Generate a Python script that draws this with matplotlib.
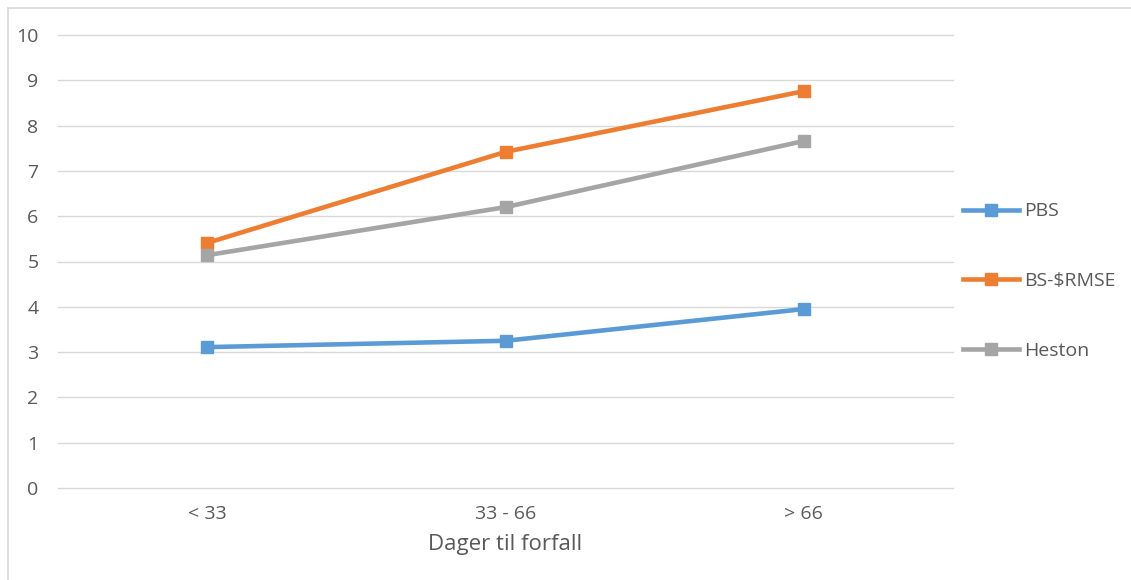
import matplotlib.pyplot as plt
import numpy as np
from matplotlib.lines import Line2D

categories = ['< 33', '33 - 66', '> 66']
pbs = [3.11, 3.25, 3.95]
bs_rmse = [5.41, 7.42, 8.76]
heston = [5.14, 6.20, 7.66]

plt.rcParams['font.family'] = ['Open Sans', 'DejaVu Sans']

fig = plt.figure(figsize=(11.31, 5.80), dpi=100)
ax = fig.add_axes([58/1131, 92/580, 895/1131, 453/580])

x = np.arange(len(categories))
ax.plot(x, pbs, color='#5B9BD5', lw=3.3, marker='s', ms=8.5, label='PBS')
ax.plot(x, bs_rmse, color='#ED7D31', lw=3.3, marker='s', ms=8.5, label='BS-$RMSE')
ax.plot(x, heston, color='#A5A5A5', lw=3.3, marker='s', ms=8.5, label='Heston')

ax.set_xlim(-0.5, 2.5)
ax.set_ylim(0, 10)
ax.set_yticks(range(0, 11))
ax.set_xticks(x)
ax.set_xticklabels(categories)
ax.grid(axis='y', color='#D9D9D9', lw=1)
for gl in ax.get_ygridlines():
    gl.set_clip_on(False)
ax.set_axisbelow(True)
for s in ax.spines.values():
    s.set_visible(False)
ax.tick_params(length=0, colors='#595959', labelsize=14)
ax.tick_params(axis='y', pad=14)
ax.tick_params(axis='x', pad=12)
ax.set_xlabel('Dager til forfall', fontsize=16, color='#595959', labelpad=8)

leg = fig.legend(loc='center left', bbox_to_anchor=(955/1131, 299/580), frameon=False,
                 fontsize=14, labelspacing=2.65, handlelength=2.9, handletextpad=0.25,
                 borderaxespad=0.0)
for t in leg.get_texts():
    t.set_color('#595959')

# chart frame: only the top and left edges fall inside the image
frame_kw = dict(transform=fig.transFigure, color='#D9D9D9', lw=1.2)
fig.lines.append(Line2D([8/1131, 1], [572/580, 572/580], **frame_kw))
fig.lines.append(Line2D([8/1131, 8/1131], [0, 572/580], **frame_kw))

fig.savefig('out.png', dpi=100)
